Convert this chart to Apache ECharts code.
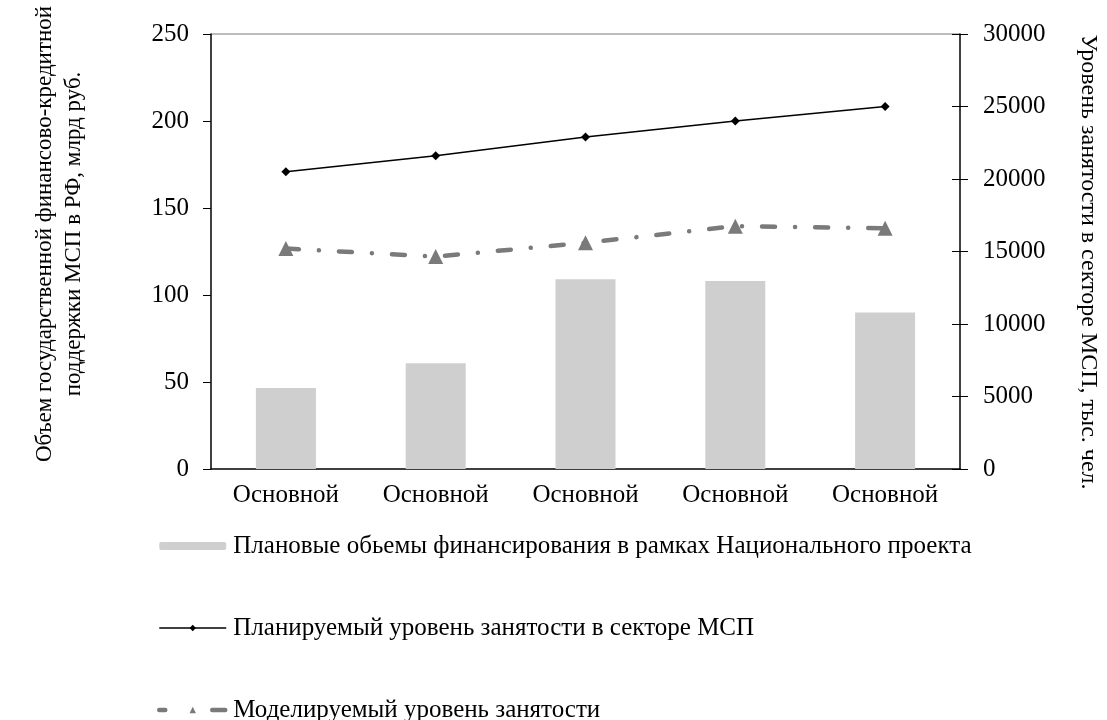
<!DOCTYPE html>
<html>
<head>
<meta charset="utf-8">
<script src="https://cdn.jsdelivr.net/npm/echarts@6/dist/echarts.min.js"></script>
<style>
  html, body { margin: 0; padding: 0; background: #fff; }
  #chart { width: 1107px; height: 720px; }
</style>
</head>
<body>
<div id="chart"></div>
<script>
// categories + values
const categories = ['Основной', 'Основной', 'Основной', 'Основной', 'Основной'];
const financing = [46.5, 60.8, 109, 108, 90];            // left axis, млрд руб.
const plannedEmployment = [20500, 21600, 22900, 24000, 25000]; // right axis
const modelledEmployment = [15200, 14650, 15600, 16750, 16600]; // right axis
const leftTicks = [0, 250, 50];
const rightTicks = [0, 30000, 5000];

const seriesNames = [
  'Плановые обьемы финансирования в рамках Национального проекта',
  'Планируемый уровень занятости в секторе МСП',
  'Моделируемый уровень занятости'
];
const leftTitle = ['Объем государственной финансово-кредитной', 'поддержки МСП в РФ, млрд руб.'];
const rightTitle = 'Уровень занятости в секторе МСП, тыс. чел.';

const font = 'Liberation Serif';

const dashLine = { color: '#7a7a7a', width: 4.5, type: [13, 20, 0.1, 20], cap: 'round' };

const chart = echarts.init(document.getElementById('chart'));

const option = {
  animation: false,
  backgroundColor: '#fff',
  textStyle: { fontFamily: font, color: '#000' },
  grid: { left: 211, right: 147, top: 34, bottom: 251 },
  legend: {
    orient: 'vertical',
    left: 157,
    top: 533,
    height: 200,
    padding: 0,
    itemWidth: 67,
    itemHeight: 8,
    itemGap: 56,
    data: [
      { name: seriesNames[0] },
      { name: seriesNames[1], lineStyle: { width: 1.5 } },
      // legend sample reads "— ▲ —"
      { name: seriesNames[2], lineStyle: { width: 4.5, type: [6, 47, 13], cap: 'round' } }
    ],
    textStyle: { fontFamily: font, fontSize: 25, color: '#000', lineHeight: 26, padding: [0, 0, 0, 2] }
  },
  xAxis: {
    type: 'category',
    data: categories,
    axisLine: { lineStyle: { color: '#000', width: 1.5 } },
    axisTick: { show: false },
    axisLabel: { fontFamily: font, fontSize: 25, color: '#000', margin: 14 }
  },
  yAxis: [
    {
      type: 'value',
      min: leftTicks[0], max: leftTicks[1], interval: leftTicks[2],
      axisLine: { show: true, lineStyle: { color: '#000', width: 1.5 } },
      axisTick: { show: true, length: 8, lineStyle: { color: '#000' } },
      axisLabel: { fontFamily: font, fontSize: 25, color: '#000', margin: 22 },
      // only the top line (250) is drawn, in grey
      splitLine: {
        show: true,
        lineStyle: {
          color: ['rgba(0,0,0,0)', 'rgba(0,0,0,0)', 'rgba(0,0,0,0)', 'rgba(0,0,0,0)', 'rgba(0,0,0,0)', '#a6a6a6'],
          width: 1.5
        }
      }
    },
    {
      type: 'value',
      position: 'right',
      min: rightTicks[0], max: rightTicks[1], interval: rightTicks[2],
      axisLine: { show: true, lineStyle: { color: '#000', width: 1.5 } },
      axisTick: { show: true, length: 8, lineStyle: { color: '#000' } },
      axisLabel: { fontFamily: font, fontSize: 25, color: '#000', margin: 23, formatter: v => String(v) },
      splitLine: { show: false }
    },
    {
      // inner half of the crossing ticks on the right axis
      type: 'value',
      position: 'right',
      min: rightTicks[0], max: rightTicks[1], interval: rightTicks[2],
      axisLine: { show: false },
      axisTick: { show: true, inside: true, length: 8, lineStyle: { color: '#000' } },
      axisLabel: { show: false },
      splitLine: { show: false }
    }
  ],
  series: [
    {
      name: seriesNames[0],
      type: 'bar',
      data: financing,
      barWidth: 60,
      itemStyle: { color: '#d0cfd0' }
    },
    {
      name: seriesNames[1],
      type: 'line',
      yAxisIndex: 1,
      data: plannedEmployment,
      symbol: 'diamond',
      symbolSize: 9,
      itemStyle: { color: '#000' },
      lineStyle: { color: '#000', width: 1.5 }
    },
    {
      name: seriesNames[2],
      type: 'line',
      yAxisIndex: 1,
      data: modelledEmployment,
      symbol: 'triangle',
      symbolSize: 15,
      itemStyle: { color: '#7a7a7a' },
      lineStyle: dashLine
    }
  ],
  graphic: [
    {
      type: 'text',
      x: 59, y: 234,
      rotation: Math.PI / 2,
      style: {
        text: leftTitle.join('\n'),
        font: '23px "Liberation Serif"',
        fill: '#000',
        lineHeight: 29,
        textAlign: 'center',
        textVerticalAlign: 'middle'
      }
    },
    {
      type: 'text',
      x: 1088, y: 262,
      rotation: -Math.PI / 2,
      style: {
        text: rightTitle,
        font: '24px "Liberation Serif"',
        fill: '#000',
        textAlign: 'center',
        textVerticalAlign: 'middle'
      }
    }
  ]
};

chart.setOption(option);
</script>
</body>
</html>
